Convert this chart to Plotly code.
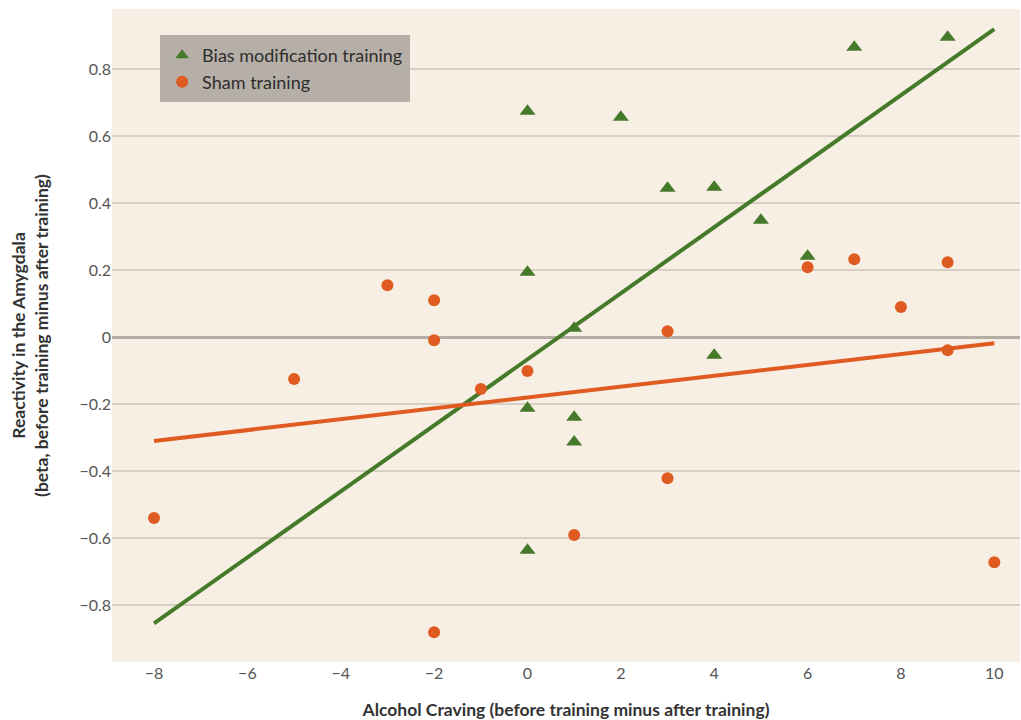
import plotly.graph_objects as go

# Bias modification training group
bias_craving = [0, 2, 0, 1, 3, 4, 5, 6, 7, 9, 0, 1, 1, 0, 4]
bias_amygdala = [0.675, 0.657, 0.194, 0.027, 0.445, 0.448, 0.349, 0.242,
                 0.866, 0.896, -0.212, -0.239, -0.313, -0.636, -0.054]

# Sham training group
sham_craving = [-8, -5, -3, -2, -2, -2, -1, 0, 1, 3, 3, 6, 7, 8, 9, 9, 10]
sham_amygdala = [-0.540, -0.125, 0.155, 0.110, -0.009, -0.881, -0.155, -0.101,
                 -0.591, 0.018, -0.421, 0.209, 0.233, 0.090, 0.224, -0.039, -0.672]

# Fitted regression lines (end points)
fit_x = [-8, 10]
bias_fit = [-0.855, 0.92]
sham_fit = [-0.31, -0.018]

GREEN = "#467a2b"
ORANGE = "#e05b22"

fig = go.Figure()

fig.add_trace(go.Scatter(x=fit_x, y=bias_fit, mode="lines",
                         line=dict(color=GREEN, width=4), showlegend=False,
                         hoverinfo="skip"))
fig.add_trace(go.Scatter(x=fit_x, y=sham_fit, mode="lines",
                         line=dict(color=ORANGE, width=4), showlegend=False,
                         hoverinfo="skip"))

fig.add_trace(go.Scatter(x=bias_craving, y=bias_amygdala, mode="markers",
                         name="Bias modification training",
                         marker=dict(symbol="triangle-up", size=14, color=GREEN)))
fig.add_trace(go.Scatter(x=sham_craving, y=sham_amygdala, mode="markers",
                         name="Sham training",
                         marker=dict(symbol="circle", size=12, color=ORANGE)))

fig.update_layout(
    width=1021, height=720,
    margin=dict(l=112, r=1, t=9, b=58),
    paper_bgcolor="white",
    plot_bgcolor="#f7efe3",
    font=dict(family="Lato, 'Open Sans', sans-serif", color="#555555", size=16),
    legend=dict(
        x=0.053, y=0.96, xanchor="left", yanchor="top",
        bgcolor="#b6afa7",
        font=dict(size=18, color="#2e2e2e"),
        borderwidth=2, bordercolor="#b6afa7",
        itemsizing="constant",
        tracegroupgap=0,
    ),
    xaxis=dict(
        range=[-8.9, 10.55],
        tickvals=[-8, -6, -4, -2, 0, 2, 4, 6, 8, 10],
        ticktext=["\u22128", "\u22126", "\u22124", "\u22122", "0", "2", "4", "6", "8", "10"],
        showgrid=False, zeroline=False, showline=False,
        ticks="", tickfont=dict(size=16, color="#555555"),
        title=dict(text="<b>Alcohol Craving (before training minus after training)</b>",
                   font=dict(size=17.5, color="#333333"), standoff=22),
    ),
    yaxis=dict(
        range=[-0.97, 0.98],
        tickvals=[-0.8, -0.6, -0.4, -0.2, 0, 0.2, 0.4, 0.6, 0.8],
        ticktext=["\u22120.8", "\u22120.6", "\u22120.4", "\u22120.2", "0",
                  "0.2", "0.4", "0.6", "0.8"],
        showgrid=True, gridcolor="#d8cfc4", gridwidth=1.5,
        zeroline=True, zerolinecolor="#b5ada6", zerolinewidth=3,
        showline=False, ticks="", ticklen=0,
        tickfont=dict(size=16, color="#555555"),
        title=dict(text="<b>Reactivity in the Amygdala<br>(beta, before training minus after training)</b>",
                   font=dict(size=17.5, color="#333333"), standoff=26),
    ),
)

fig.write_html("out.html")
